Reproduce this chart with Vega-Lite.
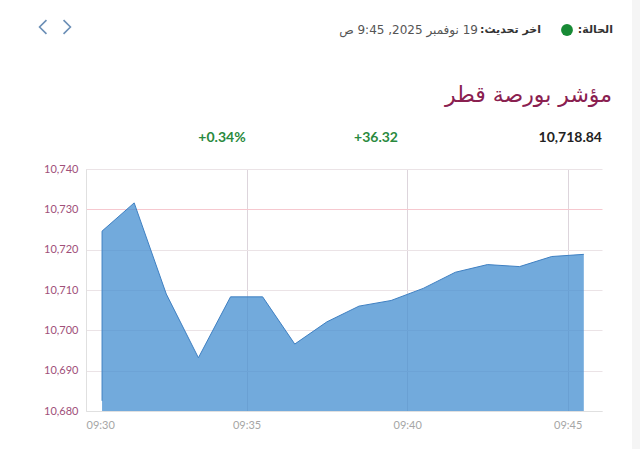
{
  "$schema": "https://vega.github.io/schema/vega-lite/v6.json",
  "width": 516,
  "height": 242,
  "autosize": {"type": "none"},
  "padding": {"left": 86, "top": 169, "right": 38, "bottom": 38},
  "background": "#ffffff",
  "config": {"view": {"stroke": null}, "font": "Lato"},
  "layer": [
    {
      "data": {"values": [{}]},
      "mark": {"type": "rect", "x": 546, "x2": 560, "y": -175, "y2": 290, "color": "#f5f5f5", "clip": false},
      "encoding": {}
    },
    {
      "data": {"values": [
        {"time": "2025-11-19T09:30:30", "value": 10682.52},
        {"time": "2025-11-19T09:30:30", "value": 10724.6},
        {"time": "2025-11-19T09:31:30", "value": 10731.6},
        {"time": "2025-11-19T09:32:30", "value": 10709.0},
        {"time": "2025-11-19T09:33:30", "value": 10693.2},
        {"time": "2025-11-19T09:34:30", "value": 10708.3},
        {"time": "2025-11-19T09:35:30", "value": 10708.3},
        {"time": "2025-11-19T09:36:30", "value": 10696.6},
        {"time": "2025-11-19T09:37:30", "value": 10702.1},
        {"time": "2025-11-19T09:38:30", "value": 10706.0},
        {"time": "2025-11-19T09:39:30", "value": 10707.4},
        {"time": "2025-11-19T09:40:30", "value": 10710.4},
        {"time": "2025-11-19T09:41:30", "value": 10714.4},
        {"time": "2025-11-19T09:42:30", "value": 10716.3},
        {"time": "2025-11-19T09:43:30", "value": 10715.8},
        {"time": "2025-11-19T09:44:30", "value": 10718.3},
        {"time": "2025-11-19T09:45:30", "value": 10718.84}
      ]},
      "mark": {"type": "area", "color": "#438ed0", "opacity": 0.75, "line": {"color": "#3f80c2", "strokeWidth": 1, "opacity": 1}},
      "encoding": {
        "x": {"field": "time", "type": "temporal",
          "scale": {"domain": ["2025-11-19T09:30:00", "2025-11-19T09:46:04"], "nice": false},
          "axis": {"title": null, "format": "%H:%M", "values": ["2025-11-19T09:30:00", "2025-11-19T09:35:00", "2025-11-19T09:40:00", "2025-11-19T09:45:00"],
            "labelColor": "#a6a6a6", "labelFontSize": 11, "labelPadding": 8, "ticks": false,
            "domainColor": "#e0e0e0", "gridColor": "#ddd5dc", "grid": true, "zindex": 0}},
        "y": {"field": "value", "type": "quantitative",
          "scale": {"domain": [10680, 10740], "zero": false, "nice": false},
          "axis": {"title": null, "format": ",d", "values": [10680, 10690, 10700, 10710, 10720, 10730, 10740],
            "labelColor": "#a0507a", "labelFontSize": 11, "labelPadding": 8, "ticks": false,
            "domainColor": "#e0e0e0",
            "gridColor": {"condition": {"test": "datum.value == 10730", "value": "#f6c8cf"}, "value": "#ebe3e6"},
            "grid": true, "zindex": 0}},
        "y2": {"datum": 10680}
      }
    },
    {"data": {"values": [{}]}, "mark": {"type": "text", "text": "\u202Bالحالة:\u202C", "x": 527, "y": -139, "align": "right", "baseline": "middle", "fontSize": 11, "fontWeight": "bold", "font": "DejaVu Sans", "color": "#333333"}, "encoding": {}},
    {"data": {"values": [{}]}, "mark": {"type": "point", "shape": "circle", "filled": true, "x": 481, "y": -139, "size": 140, "color": "#178a35", "opacity": 1}, "encoding": {}},
    {"data": {"values": [{}]}, "mark": {"type": "text", "text": "\u202Bاخر تحديث:\u202C", "x": 455, "y": -139, "align": "right", "baseline": "middle", "fontSize": 11, "fontWeight": "bold", "font": "DejaVu Sans", "color": "#333333"}, "encoding": {}},
    {"data": {"values": [{}]}, "mark": {"type": "text", "text": "\u202B19 نوفمبر 2025, 9:45 ص\u202C", "x": 392, "y": -139, "align": "right", "baseline": "middle", "fontSize": 12, "font": "DejaVu Sans", "color": "#555555"}, "encoding": {}},
    {"data": {"values": [{}]}, "mark": {"type": "point", "shape": "M0.5,-1L-0.5,0L0.5,1", "filled": false, "x": -43, "y": -142, "size": 190, "stroke": "#6b8fb6", "strokeWidth": 1.6, "opacity": 1}, "encoding": {}},
    {"data": {"values": [{}]}, "mark": {"type": "point", "shape": "M-0.5,-1L0.5,0L-0.5,1", "filled": false, "x": -19, "y": -142, "size": 190, "stroke": "#6b8fb6", "strokeWidth": 1.6, "opacity": 1}, "encoding": {}},
    {"data": {"values": [{}]}, "mark": {"type": "text", "text": "مؤشر بورصة قطر", "x": 526, "y": -74, "align": "right", "baseline": "middle", "fontSize": 22, "font": "DejaVu Sans", "color": "#8a2050"}, "encoding": {}},
    {"data": {"values": [{}]}, "mark": {"type": "text", "text": "10,718.84", "x": 516, "y": -31, "align": "right", "baseline": "middle", "fontSize": 14, "fontWeight": "bold", "font": "Lato", "color": "#222222"}, "encoding": {}},
    {"data": {"values": [{}]}, "mark": {"type": "text", "text": "+36.32", "x": 290, "y": -31, "align": "center", "baseline": "middle", "fontSize": 14, "fontWeight": "bold", "font": "Lato", "color": "#2a8a3e"}, "encoding": {}},
    {"data": {"values": [{}]}, "mark": {"type": "text", "text": "+0.34%", "x": 136, "y": -31, "align": "center", "baseline": "middle", "fontSize": 14, "fontWeight": "bold", "font": "Lato", "color": "#2a8a3e"}, "encoding": {}}
  ]
}
